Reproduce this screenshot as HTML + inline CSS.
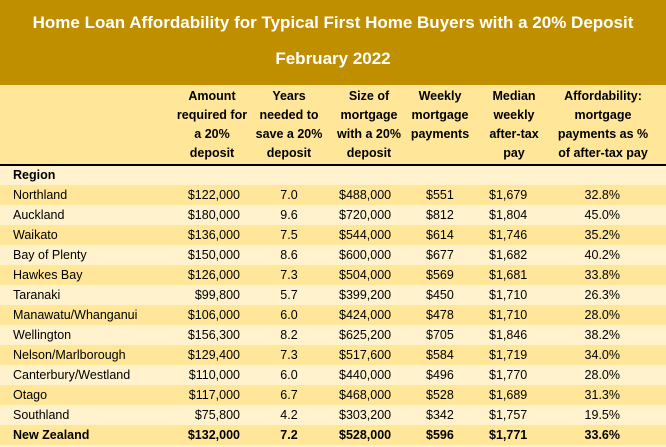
<!DOCTYPE html>
<html><head><meta charset="utf-8"><style>
body{margin:0;width:666px;height:447px;overflow:hidden;background:#FFF2CC;font-family:"Liberation Sans",sans-serif;}
#wrap{position:relative;width:666px;height:447px;}
.band{position:absolute;left:0;top:0;width:666px;height:85px;background:#BF8F00;}
.t{position:absolute;left:0;width:666px;text-align:center;color:#fff;font-weight:bold;font-size:17px;}
.hdr{position:absolute;left:0;top:85px;width:666px;height:79px;background:#FFE699;border-bottom:2px solid #000;}
.hc{position:absolute;top:87px;text-align:center;font-weight:bold;font-size:12.5px;line-height:19px;color:#000;width:100px;margin-left:-50px;}
.row{position:absolute;left:0;width:666px;height:20px;font-size:12.5px;line-height:20px;}
.row span{position:absolute;top:0;}
.c{text-align:center;width:90px;margin-left:-45px;}
.d{background:#FFE699;}
.b{font-weight:bold;}
</style></head><body>
<div id="wrap">
<div class="band"></div>
<div class="t" style="top:13px">Home Loan Affordability for Typical First Home Buyers with a 20% Deposit</div>
<div class="t" style="top:49px">February 2022</div>
<div class="hdr"></div>
<div class="hc" style="left:212px">Amount<br>required for<br>a 20%<br>deposit</div>
<div class="hc" style="left:289px">Years<br>needed to<br>save a 20%<br>deposit</div>
<div class="hc" style="left:369px">Size of<br>mortgage<br>with a 20%<br>deposit</div>
<div class="hc" style="left:440px">Weekly<br>mortgage<br>payments</div>
<div class="hc" style="left:514px">Median<br>weekly<br>after-tax<br>pay</div>
<div class="hc" style="left:603px;width:120px;margin-left:-60px">Affordability:<br>mortgage<br>payments as %<br>of after-tax pay</div>
<div id="rows"></div>
</div>
<script>
const regions=["Northland","Auckland","Waikato","Bay of Plenty","Hawkes Bay","Taranaki","Manawatu/Whanganui","Wellington","Nelson/Marlborough","Canterbury/Westland","Otago","Southland","New Zealand"];
const amounts=["$122,000","$180,000","$136,000","$150,000","$126,000","$99,800","$106,000","$156,300","$129,400","$110,000","$117,000","$75,800","$132,000"];
const years=["7.0","9.6","7.5","8.6","7.3","5.7","6.0","8.2","7.3","6.0","6.7","4.2","7.2"];
const mortgages=["$488,000","$720,000","$544,000","$600,000","$504,000","$399,200","$424,000","$625,200","$517,600","$440,000","$468,000","$303,200","$528,000"];
const payments=["$551","$812","$614","$677","$569","$450","$478","$705","$584","$496","$528","$342","$596"];
const pays=["$1,679","$1,804","$1,746","$1,682","$1,681","$1,710","$1,710","$1,846","$1,719","$1,770","$1,689","$1,757","$1,771"];
const afford=["32.8%","45.0%","35.2%","40.2%","33.8%","26.3%","28.0%","38.2%","34.0%","28.0%","31.3%","19.5%","33.6%"];
const R=document.getElementById('rows');
const reg=document.createElement('div');
reg.className='row';reg.style.top='165px';


reg.innerHTML='<span class="b" style="left:13px">Region</span>';
R.appendChild(reg);
regions.forEach((r,i)=>{
  const d=document.createElement('div');
  d.className='row'+(i%2===0?' d':'')+(i===regions.length-1?' b':'');
  d.style.top=(185+i*20)+'px';
  
  
  d.innerHTML=`<span style="left:13px">${r}</span><span style="right:426px">${amounts[i]}</span><span class="c" style="left:289px">${years[i]}</span><span style="left:339px">${mortgages[i]}</span><span style="left:426px">${payments[i]}</span><span style="left:489px">${pays[i]}</span><span style="right:46px">${afford[i]}</span>`;
  R.appendChild(d);
});
</script>
</body></html>
